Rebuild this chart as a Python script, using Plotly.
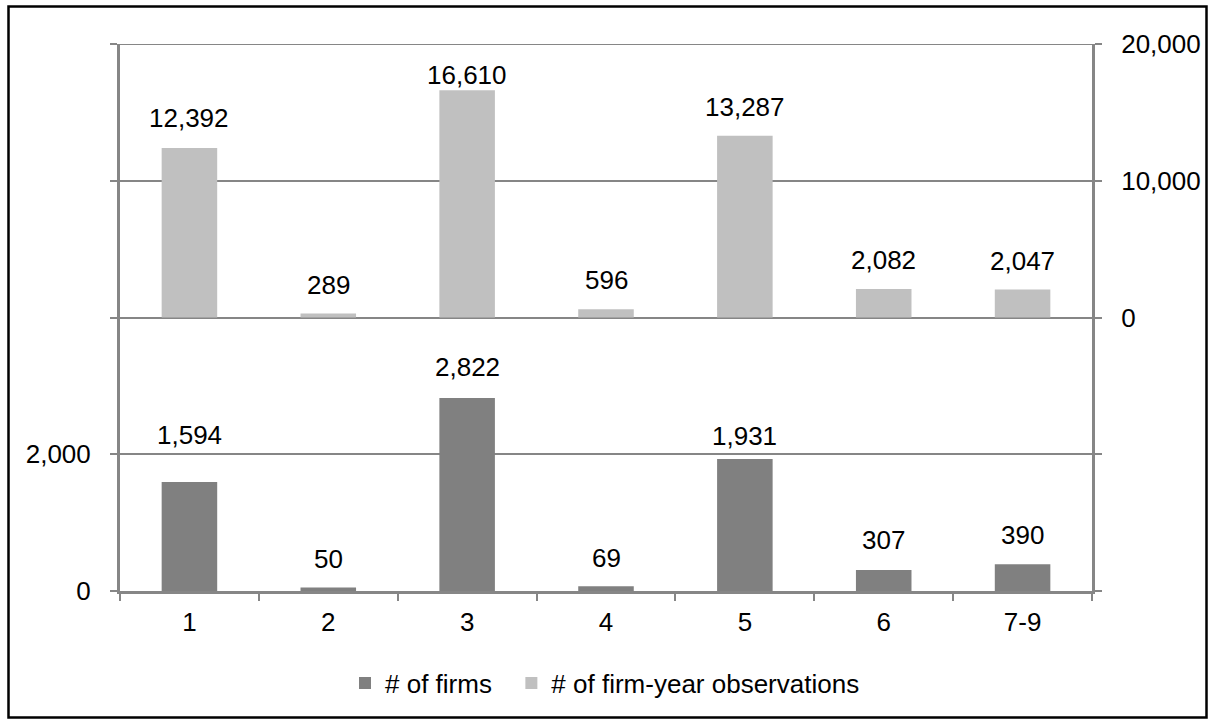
import plotly.graph_objects as go

# Size classes on the category axis
categories = ["1", "2", "3", "4", "5", "6", "7-9"]
# Number of firms per class (left axis)
firms = [1594, 50, 2822, 69, 1931, 307, 390]
# Number of firm-year observations per class (right axis)
observations = [12392, 289, 16610, 596, 13287, 2082, 2047]

W, H = 1215, 724
L, R, T, B = 120, 123, 44, 133
PW, PH = W - L - R, H - T - B

FONT = "Liberation Sans, Arial, sans-serif"
AXIS = "#868686"
DARK = "#808080"
LIGHT = "#C0C0C0"
FS = 26
NBSP = "\u00a0"

# vertical lift (px) of each value label's centre above its bar top
lift_firms = [47, 29, 31, 28, 23, 30, 29]
lift_obs = [30, 29, 15, 29, 29, 29, 29]

fig = go.Figure()
fig.add_trace(go.Bar(
    x=categories, y=firms, name="# of firms" + NBSP * 2,
    marker=dict(color=DARK, line=dict(width=0)),
    width=0.4, yaxis="y",
))
fig.add_trace(go.Bar(
    x=categories, y=observations, name="# of firm-year observations",
    marker=dict(color=LIGHT, line=dict(width=0)),
    width=0.4, yaxis="y2",
))

# value labels; x given as the category index so numeric-looking
# category names are not misread as positions
annotations = []
for i, (v, dy) in enumerate(zip(firms, lift_firms)):
    annotations.append(dict(
        x=i, y=v, xref="x", yref="y", text=f"{v:,}", showarrow=False,
        yanchor="middle", xanchor="center", yshift=dy,
        font=dict(family=FONT, size=FS, color="black"),
    ))
for i, (v, dy) in enumerate(zip(observations, lift_obs)):
    annotations.append(dict(
        x=i, y=v, xref="x", yref="y2", text=f"{v:,}", showarrow=False,
        yanchor="middle", xanchor="center", yshift=dy,
        font=dict(family=FONT, size=FS, color="black"),
    ))

def px_x(p):
    return (p - L) / PW

def px_y(p):
    return (H - B - p) / PH

left_ticks = [0, 2000, 4000, 6000, 8000]
left_text = ["0", "2,000", "", "", ""]
right_ticks = [-20000, -10000, 0, 10000, 20000]
right_text = ["", "", "0", "10,000", "20,000"]

shapes = [
    # outer frame of the chart area
    dict(
        type="rect", xref="paper", yref="paper",
        x0=px_x(8.5), x1=px_x(1206.5), y0=px_y(6.5), y1=px_y(717.5),
        line=dict(color="black", width=2.5), fillcolor="rgba(0,0,0,0)",
        layer="above",
    ),
    # gridline along the top edge of the plot, which plotly leaves out
    dict(
        type="line", xref="paper", yref="y",
        x0=0, x1=1, y0=left_ticks[-1], y1=left_ticks[-1],
        line=dict(color=AXIS, width=2), layer="below",
    ),
]

fig.update_layout(
    width=W, height=H,
    margin=dict(l=L, r=R, t=T, b=B, autoexpand=False),
    paper_bgcolor="white", plot_bgcolor="white",
    font=dict(family=FONT, size=FS, color="black"),
    barmode="overlay",
    showlegend=True,
    legend=dict(
        orientation="h", x=px_x(345), xanchor="left",
        y=px_y(683), yanchor="middle",
        font=dict(family=FONT, size=FS, color="black"),
        bgcolor="rgba(0,0,0,0)",
    ),
    xaxis=dict(
        type="category", range=[-0.5, 6.5],
        tickson="boundaries", ticks="outside", ticklen=7, tickwidth=2,
        tickcolor=AXIS, showline=True, linecolor=AXIS, linewidth=3,
        showgrid=False, zeroline=False, ticklabelstandoff=6,
        tickfont=dict(family=FONT, size=FS, color="black"),
    ),
    yaxis=dict(
        range=[0, 8000], tickvals=left_ticks, ticktext=left_text,
        ticks="outside", ticklen=7, tickwidth=2, tickcolor=AXIS,
        showline=True, linecolor=AXIS, linewidth=3,
        showgrid=True, gridcolor=AXIS, gridwidth=2, zeroline=False,
        ticklabelstandoff=14,
        tickfont=dict(family=FONT, size=FS, color="black"),
    ),
    yaxis2=dict(
        range=[-20000, 20000], tickvals=right_ticks, ticktext=right_text,
        overlaying="y", side="right",
        ticks="outside", ticklen=7, tickwidth=2, tickcolor=AXIS,
        showline=True, linecolor=AXIS, linewidth=3,
        showgrid=False, zeroline=False, ticklabelstandoff=14,
        tickfont=dict(family=FONT, size=FS, color="black"),
    ),
    annotations=annotations,
    shapes=shapes,
)

fig.write_html("out.html")
